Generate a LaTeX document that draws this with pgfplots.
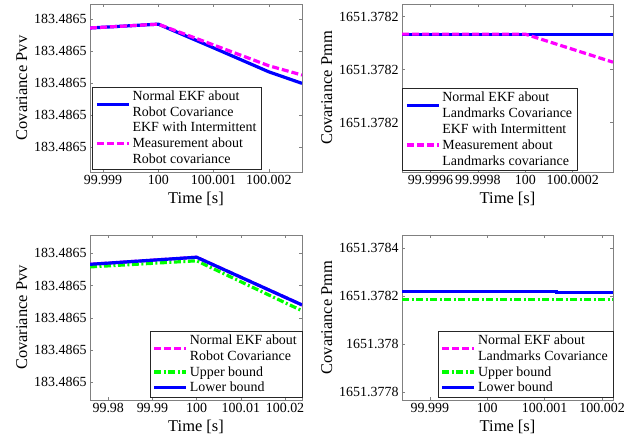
\documentclass[border=0pt]{standalone}
\usepackage{pgfplots}
\pgfplotsset{compat=1.18}
\usepackage{fontspec}
\setmainfont{Liberation Serif}

\definecolor{mblue}{RGB}{0,0,255}
\definecolor{mmag}{RGB}{255,0,255}
\definecolor{mgreen}{RGB}{0,255,0}
\definecolor{mgray}{RGB}{128,128,128}

\pgfplotsset{
  mystyle/.style={
    scale only axis,
    axis line style={mgray},
    tick style={mgray, line width=0.5pt},
    tick align=inside,
    major tick length=3bp,
    tick pos=both,
    ticklabel pos=left,
    ticklabel style={font=\fontsize{14}{16}\selectfont},
    label style={font=\fontsize{16.5}{18}\selectfont},
    xlabel={Time [s]},
    legend style={font=\fontsize{14}{16}\selectfont, draw=black!85,
      cells={anchor=west, align=left, inner xsep=1.5bp, inner ysep=0.8bp},
      inner xsep=3bp, inner ysep=1.5bp, column sep=0bp, row sep=0.5bp},
    legend image code/.code={\draw[##1] (0bp,0bp) -- (32bp,0bp);},
  },
  lblue/.style={mblue, line width=3.2bp},
  lmag/.style={mmag, line width=3.2bp, dash pattern=on 7bp off 3bp},
  lgreen/.style={mgreen, line width=3.2bp, dash pattern=on 7bp off 2.5bp on 2bp off 2.5bp},
}

\begin{document}
\begin{tikzpicture}
\useasboundingbox (0,0) rectangle (635bp,439bp);

% Panel 1 (top left): x = time - 100 s, in ms
\begin{axis}[mystyle, at={(90bp,267bp)}, anchor=south west,
  width=212bp, height=168bp,
  xmin=-1.235, xmax=2.60, ymin=0.22, ymax=5.47,
  xtick={-1,0,1,2}, xticklabels={99.999,100,100.001,100.002},
  ytick={1,2,3,4,5}, yticklabels={183.4865,183.4865,183.4865,183.4865,183.4865},
  ylabel={Covariance Pvv},
  legend style={at={(0.01,0.018)}, anchor=south west}]
\addplot[lblue] coordinates {(-1.235,4.72) (0,4.84) (1,4.10) (2,3.35) (2.60,2.99)};
\addlegendentry{Normal EKF about\\Robot Covariance}
\addplot[lmag] coordinates {(-1.235,4.72) (0,4.84) (1,4.19) (2,3.54) (2.60,3.25)};
\addlegendentry{EKF with Intermittent\\Measurement about\\Robot covariance}
\end{axis}

% Panel 2 (top right)
\begin{axis}[mystyle, at={(402bp,267bp)}, anchor=south west,
  width=211bp, height=168bp,
  xmin=-0.52, xmax=0.37, ymin=0.064, ymax=3.24,
  xtick={-0.4,-0.2,0,0.2}, xticklabels={99.9996,99.9998,100,100.0002},
  ytick={1,2,3}, yticklabels={1651.3782,1651.3782,1651.3782},
  ylabel={Covariance Pmm},
  legend style={at={(0.0,0.01)}, anchor=south west}]
\addplot[lblue] coordinates {(-0.52,2.67) (0,2.67) (0.37,2.67)};
\addlegendentry{Normal EKF about\\Landmarks Covariance}
\addplot[lmag] coordinates {(-0.52,2.67) (0,2.67) (0.37,2.14)};
\addlegendentry{EKF with Intermittent\\Measurement about\\Landmarks covariance}
\end{axis}

% Panel 3 (bottom left)
\begin{axis}[mystyle, at={(90bp,39bp)}, anchor=south west,
  width=212bp, height=165bp,
  xmin=-24.13, xmax=23.84, ymin=0.45, ymax=5.57,
  xtick={-20,-10,0,10,20}, xticklabels={99.98,99.99,100,100.01,100.02},
  ytick={1,2,3,4,5}, yticklabels={183.4865,183.4865,183.4865,183.4865,183.4865},
  ylabel={Covariance Pvv},
  legend style={at={(1,0.018)}, anchor=south east}]
\addplot[lmag] coordinates {(-24.13,4.66) (0,4.88) (23.84,3.40)};
\addlegendentry{Normal EKF about\\Robot Covariance}
\addplot[lgreen] coordinates {(-24.13,4.58) (0,4.77) (23.84,3.22)};
\addlegendentry{Upper bound}
\addplot[lblue] coordinates {(-24.13,4.66) (0,4.88) (23.84,3.40)};
\addlegendentry{Lower bound}
\end{axis}

% Panel 4 (bottom right): y in units of 1e-4 above 1651.3780
\begin{axis}[mystyle, at={(402bp,39bp)}, anchor=south west,
  width=211bp, height=165bp,
  xmin=-1.484, xmax=2.19, ymin=-2.32, ymax=4.55,
  xtick={-1,0,1,2}, xticklabels={99.999,100,100.001,100.002},
  ytick={-2,0,2,4}, yticklabels={1651.3778,1651.378,1651.3782,1651.3784},
  ylabel={Covariance Pmm},
  legend style={at={(1,0.018)}, anchor=south east}]
\addplot[lmag] coordinates {(-1.484,2.19) (1.2,2.19) (1.2,2.16) (2.19,2.16)};
\addlegendentry{Normal EKF about\\Landmarks Covariance}
\addplot[lgreen] coordinates {(-1.484,1.87) (2.19,1.87)};
\addlegendentry{Upper bound}
\addplot[lblue] coordinates {(-1.484,2.20) (1.2,2.20) (1.2,2.16) (2.19,2.16)};
\addlegendentry{Lower bound}
\end{axis}
\end{tikzpicture}
\end{document}
